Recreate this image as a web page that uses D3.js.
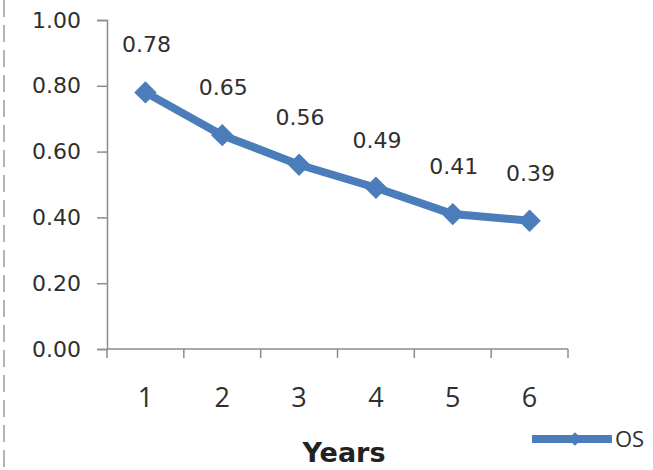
<!DOCTYPE html>
<html>
<head>
<meta charset="utf-8">
<script src="https://cdn.jsdelivr.net/npm/d3@7/dist/d3.min.js"></script>
<style>
  html, body { margin: 0; padding: 0; background: #fff; }
  svg { display: block; }
</style>
</head>
<body>
<svg id="chart" width="653" height="470"></svg>
<script>
// Overall survival by year
const years = ["1", "2", "3", "4", "5", "6"];
const osValues = [0.78, 0.65, 0.56, 0.49, 0.41, 0.39];
const yTicks = [0, 0.2, 0.4, 0.6, 0.8, 1.0];
const seriesName = "OS";
const xTitle = "Years";

const svg = d3.select("#chart");
const blue = "#4a7dba";
const axisGray = "#8c8c8c";
const textColor = "#2f2f2f";

const x = d3.scaleBand().domain(years).range([107, 568]);
const y = d3.scaleLinear().domain([0, 1]).range([349, 20]);

// dashed frame edge on the left
svg.append("line")
  .attr("x1", 4).attr("x2", 4).attr("y1", 0).attr("y2", 470)
  .attr("stroke", "#b3b3b3").attr("stroke-width", 2)
  .attr("stroke-dasharray", "17 8");

// y axis
const yAxis = svg.append("g")
  .attr("transform", "translate(107,0)")
  .call(d3.axisLeft(y).tickValues(yTicks).tickFormat(d3.format(".2f")).tickSizeOuter(0).tickSize(10).tickPadding(16));
yAxis.select(".domain").attr("stroke", axisGray).attr("stroke-width", 1.5);
yAxis.selectAll(".tick line").attr("stroke", axisGray).attr("stroke-width", 1.5);
yAxis.selectAll(".tick text")
  .attr("fill", textColor)
  .style("font-family", "'DejaVu Sans', sans-serif")
  .style("font-size", "22px");

// x axis with ticks between categories
const xAxisG = svg.append("g").attr("transform", "translate(0,349)");
xAxisG.append("line")
  .attr("x1", 107).attr("x2", 568).attr("y1", 0).attr("y2", 0)
  .attr("stroke", axisGray).attr("stroke-width", 1.5);
const bounds = years.map(d => x(d)).concat([x.range()[1]]);
xAxisG.selectAll("line.tk").data(bounds).join("line")
  .attr("class", "tk")
  .attr("x1", d => d).attr("x2", d => d).attr("y1", 0).attr("y2", 9)
  .attr("stroke", axisGray).attr("stroke-width", 1.5);
xAxisG.selectAll("text").data(years).join("text")
  .attr("x", d => x(d) + x.bandwidth() / 2)
  .attr("y", 58)
  .attr("text-anchor", "middle")
  .attr("fill", textColor)
  .style("font-family", "'Open Sans', sans-serif")
  .style("font-size", "27px")
  .text(d => d);

// axis title
svg.append("text")
  .attr("x", 344).attr("y", 462)
  .attr("text-anchor", "middle")
  .attr("fill", "#222")
  .style("font-family", "'DejaVu Sans', sans-serif")
  .style("font-weight", "bold")
  .style("font-size", "27px")
  .text(xTitle);

// series line
const cx = d => x(d) + x.bandwidth() / 2;
const line = d3.line().x((d, i) => cx(years[i])).y(d => y(d));
svg.append("path")
  .datum(osValues)
  .attr("d", line)
  .attr("fill", "none")
  .attr("stroke", blue)
  .attr("stroke-width", 8)
  .attr("stroke-linejoin", "round");

// diamond markers
const diamond = d3.symbol().type(d3.symbolDiamond2).size(320);
svg.selectAll("path.mk").data(osValues).join("path")
  .attr("class", "mk")
  .attr("d", diamond)
  .attr("transform", (d, i) => `translate(${cx(years[i])},${y(d)})`)
  .attr("fill", blue);

// value labels
svg.selectAll("text.lbl").data(osValues).join("text")
  .attr("class", "lbl")
  .attr("x", (d, i) => cx(years[i]) + 1)
  .attr("y", d => y(d) - 40)
  .attr("text-anchor", "middle")
  .attr("fill", textColor)
  .style("font-family", "'DejaVu Sans', sans-serif")
  .style("font-size", "22px")
  .text(d => d3.format(".2f")(d));

// legend
const lg = svg.append("g");
lg.append("line")
  .attr("x1", 532).attr("x2", 612).attr("y1", 439).attr("y2", 439)
  .attr("stroke", blue).attr("stroke-width", 8);
lg.append("path")
  .attr("d", d3.symbol().type(d3.symbolDiamond2).size(120))
  .attr("transform", "translate(575,439)")
  .attr("fill", blue);
lg.append("text")
  .attr("x", 615).attr("y", 447)
  .attr("fill", textColor)
  .style("font-family", "'Open Sans', sans-serif")
  .style("font-size", "22px")
  .text(seriesName);
</script>
</body>
</html>
